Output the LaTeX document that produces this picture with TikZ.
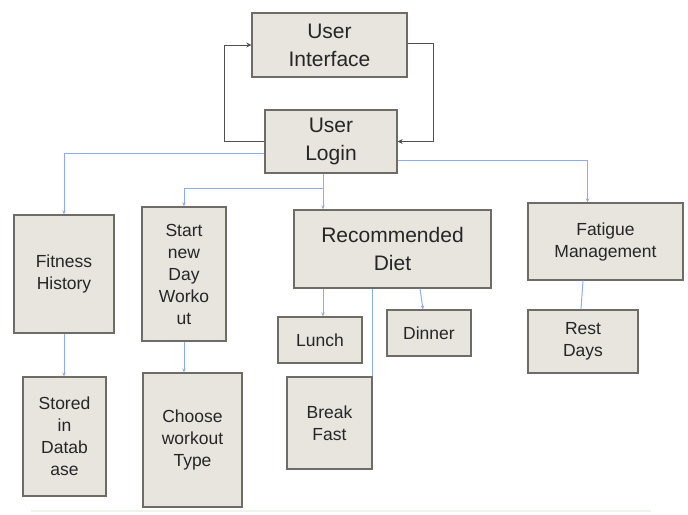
\documentclass[tikz,border=0pt]{standalone}
\usepackage{fontspec}
\setmainfont{Liberation Sans}
\usetikzlibrary{arrows.meta,shadows}
\definecolor{boxfill}{HTML}{E8E4DE}
\definecolor{boxline}{HTML}{6F6B67}
\definecolor{linkblue}{HTML}{8DADE4}
\definecolor{linkgray}{HTML}{505050}
\definecolor{rulegreen}{HTML}{EEF3EC}
\begin{document}
\begin{tikzpicture}[
  x=1pt, y=-1pt,
  box/.style={draw=boxline, line width=1.3pt, fill=boxfill, align=center, inner sep=2pt,
    text=black!85, font=\fontsize{17.5}{22}\selectfont,
    drop shadow={shadow xshift=0.8pt, shadow yshift=-1pt, opacity=0.35, fill=black!40}},
  bigbox/.style={box, font=\fontsize{21}{28}\selectfont},
  arrow/.style={-{Stealth[length=5pt,width=5pt]}, draw=linkgray, line width=1pt},
  blink/.style={-{Stealth[length=4pt,width=3.5pt]}, draw=linkblue, line width=1pt},
  bline/.style={draw=linkblue, line width=1pt}
]
\useasboundingbox (0,0) rectangle (688,514);
\node[bigbox, minimum width=155pt, minimum height=64pt] (ui) at (329.5,45) {User\\Interface};
\node[bigbox, minimum width=132pt, minimum height=63pt] (login) at (331,141.5) {User\\Login};
\node[box, minimum width=100pt, minimum height=118pt] (fitness) at (64,274) {Fitness\\History};
\node[box, minimum width=84pt, minimum height=134pt] (start) at (184,274) {Start\\new\\Day\\Worko\\ut};
\node[bigbox, minimum width=197pt, minimum height=78pt] (diet) at (392.5,249) {Recommended\\Diet};
\node[box, minimum width=155pt, minimum height=77pt] (fatigue) at (605.5,241.5) {Fatigue\\Management};
\node[box, minimum width=84pt, minimum height=46pt] (lunch) at (320,340) {Lunch};
\node[box, minimum width=84pt, minimum height=46pt] (dinner) at (429,333) {Dinner};
\node[box, minimum width=85pt, minimum height=92pt] (breakfast) at (329.5,423) {Break\\Fast};
\node[box, minimum width=110pt, minimum height=63pt] (rest) at (583,341.5) {Rest\\Days};
\node[box, minimum width=83pt, minimum height=119pt] (stored) at (64.5,436.5) {Stored\\in\\Datab\\ase};
\node[box, minimum width=99pt, minimum height=134pt] (workout) at (192.5,440) {Choose\\workout\\Type};
\coordinate (hub) at (323,188);
\coordinate (ruleleft) at (31,511);
\coordinate (ruleright) at (651,511);
\draw[arrow] (login.west) -- ++(-40,0) |- (ui.west);
\draw[arrow] ([yshift=2pt]ui.east) -- ++(26,0) |- (login.east);
\draw[blink] ([yshift=-12pt]login.west) -| (fitness.north);
\draw[blink] ([yshift=-19pt]login.east) -| ([xshift=-18pt]fatigue.north);
\draw[blink] (hub |- login.south) -- (hub) -| (start.north);
\draw[blink] (hub) -- (hub |- diet.north);
\draw[blink] (hub |- diet.south) -- (hub |- lunch.north);
\draw[bline] (diet.south -| breakfast.north east) -- (breakfast.north east);
\draw[blink] ([xshift=27.5pt]diet.south) -- ([xshift=-6pt]dinner.north);
\draw[bline] ([xshift=-22.5pt]fatigue.south) -- ([xshift=-2pt]rest.north);
\draw[blink] (fitness.south) -- (fitness.south |- stored.north);
\draw[blink] (start.south) -- (start.south |- workout.north);
\draw[rulegreen, line width=1.5pt] (ruleleft) -- (ruleright);
\end{tikzpicture}
\end{document}
